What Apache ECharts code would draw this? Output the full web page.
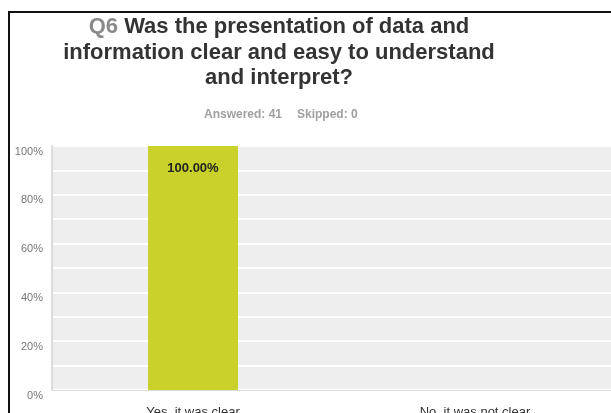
<!DOCTYPE html>
<html>
<head>
<meta charset="utf-8">
<script src="https://cdn.jsdelivr.net/npm/echarts@6/dist/echarts.min.js"></script>
<style>
  html, body { margin: 0; padding: 0; background: #ffffff; }
  #chart { width: 611px; height: 413px; }
</style>
</head>
<body>
<div id="chart"></div>
<script>
// Survey answers and their shares (percent of respondents)
const categories = ['Yes, it was clear', 'No, it was not clear'];
const shares = [100, 0];
const yTicks = [0, 20, 40, 60, 80, 100];
const answered = 41;
const skipped = 0;

const chart = echarts.init(document.getElementById('chart'), null, { renderer: 'canvas' });

const titleFont = 'bold 22px "Liberation Sans", Arial, sans-serif';
const metaFont = 'bold 12px "Liberation Sans", Arial, sans-serif';

const option = {
  animation: false,
  backgroundColor: '#ffffff',
  graphic: [
    // frame lines on the top and left
    { type: 'line', shape: { x1: 9, y1: 12, x2: 611, y2: 12 }, style: { stroke: '#111', lineWidth: 2 } },
    { type: 'line', shape: { x1: 9, y1: 11, x2: 9, y2: 413 }, style: { stroke: '#111', lineWidth: 2 } },
    {
      type: 'text', x: 279, y: 26.5,
      style: {
        text: '{q|Q6} Was the presentation of data and',
        font: titleFont, fill: '#333', align: 'center', verticalAlign: 'middle',
        rich: { q: { fill: '#8a8a8a', font: titleFont } }
      }
    },
    {
      type: 'text', x: 279, y: 52.5,
      style: { text: 'information clear and easy to understand', font: titleFont, fill: '#333', align: 'center', verticalAlign: 'middle' }
    },
    {
      type: 'text', x: 279, y: 78,
      style: { text: 'and interpret?', font: titleFont, fill: '#333', align: 'center', verticalAlign: 'middle' }
    },
    {
      type: 'text', x: 282, y: 115,
      style: { text: 'Answered: ' + answered, font: metaFont, fill: '#a0a0a0', align: 'right', verticalAlign: 'middle' }
    },
    {
      type: 'text', x: 297, y: 115,
      style: { text: 'Skipped: ' + skipped, font: metaFont, fill: '#a0a0a0', align: 'left', verticalAlign: 'middle' }
    }
  ],
  grid: {
    left: 52, top: 146, width: 564, height: 244,
    containLabel: false,
    outerBoundsMode: 'none',
    show: true, backgroundColor: '#eeeeee', borderWidth: 0
  },
  xAxis: {
    type: 'category',
    data: categories,
    axisTick: { show: false },
    axisLine: { show: true, lineStyle: { color: '#dadada', width: 1 } },
    axisLabel: {
      margin: 16, fontSize: 13, color: '#333', verticalAlign: 'top',
      fontFamily: '"Liberation Sans", Arial, sans-serif'
    }
  },
  yAxis: {
    type: 'value',
    min: 0, max: 100, interval: 10,
    axisLine: { show: true, lineStyle: { color: '#dcdcdc', width: 2 } },
    axisTick: { show: false },
    splitLine: { show: true, lineStyle: { color: '#ffffff', width: 2 } },
    axisLabel: {
      margin: 9, fontSize: 11, color: '#777', verticalAlign: 'top',
      fontFamily: '"Liberation Sans", Arial, sans-serif',
      formatter: v => (yTicks.indexOf(v) >= 0 ? v + '%' : '')
    }
  },
  series: [{
    type: 'bar',
    data: shares,
    barWidth: 90,
    itemStyle: { color: '#c9d12a' },
    label: {
      show: true,
      position: 'insideTop',
      distance: 16,
      fontSize: 13,
      fontWeight: 'bold',
      color: '#222',
      fontFamily: '"Liberation Sans", Arial, sans-serif',
      formatter: p => (p.value > 0 ? p.value.toFixed(2) + '%' : '')
    }
  }]
};

chart.setOption(option);
</script>
</body>
</html>
